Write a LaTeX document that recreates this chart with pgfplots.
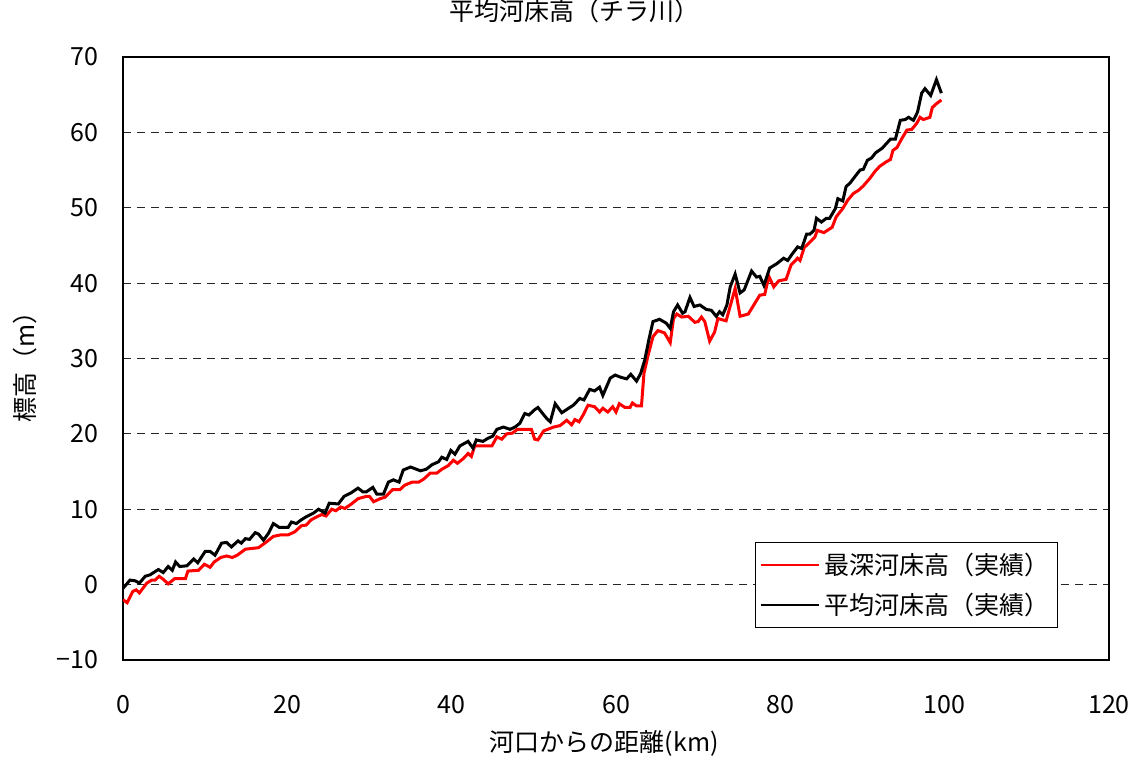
\documentclass[border=0pt]{standalone}
\usepackage{fontspec}
\setmainfont{Noto Sans CJK JP}
\usepackage{pgfplots}
\pgfplotsset{compat=1.18}

% 最深河床高(実績)
\pgfplotstableread{
x y
0 -2.0
0.5 -2.4
1.2 -0.9
1.6 -0.7
2.0 -1.1
2.9 0.2
3.5 0.6
3.9 0.6
4.4 1.1
4.9 0.7
5.5 0.1
6.3 0.8
7.6 0.8
7.9 1.8
9.2 1.9
9.9 2.7
10.6 2.3
11.1 3.0
11.9 3.6
12.6 3.8
13.3 3.6
13.9 3.9
14.9 4.7
15.7 4.8
16.5 4.9
17.5 5.7
18.3 6.4
19.2 6.6
20.1 6.6
20.9 7.0
21.7 7.8
22.3 7.9
22.9 8.6
23.6 9.0
24.2 9.3
24.7 9.1
25.4 10.0
25.9 9.8
26.5 10.3
27.0 10.1
27.8 10.7
28.6 11.4
29.6 11.7
30.0 11.7
30.5 11.0
31.3 11.4
31.9 11.6
32.8 12.6
33.7 12.6
34.3 13.2
35.2 13.6
36.0 13.6
36.6 14.0
37.4 14.8
38.2 14.8
38.8 15.3
39.6 15.8
40.2 16.5
40.7 16.1
41.4 16.7
42.0 17.4
42.4 17.0
42.8 18.4
44.9 18.4
45.5 19.6
46.1 19.3
46.7 20.0
47.4 20.1
48.0 20.6
49.7 20.6
50.1 19.3
50.5 19.2
51.2 20.4
52.4 20.9
53.2 21.1
54.0 21.8
54.6 21.2
55.0 21.9
55.5 21.6
56.0 22.5
56.6 23.8
57.4 23.6
58.0 22.9
58.4 23.4
59.0 22.9
59.6 23.6
60.0 22.9
60.4 24.0
61.1 23.5
61.7 23.5
62.0 24.1
62.5 23.7
63.1 23.7
63.4 28.0
63.9 30.4
64.5 32.9
65.1 33.7
65.9 33.4
66.6 32.1
67.0 35.3
67.4 35.9
68.0 35.5
68.8 35.6
69.6 34.8
70.0 34.9
70.4 35.5
70.8 34.9
71.4 32.3
72.0 33.5
72.4 35.3
73.4 35.0
74.5 39.3
75.1 35.6
76.1 35.9
77.5 38.4
78.1 38.5
78.6 40.9
79.2 39.5
79.8 40.3
80.7 40.5
81.3 42.4
82.1 43.3
82.4 43.0
82.9 44.7
84.2 46.1
84.5 47.0
85.3 46.7
86.3 47.4
86.8 48.8
87.6 49.9
88.2 51.0
88.9 51.9
89.5 52.3
90.1 52.9
90.9 53.9
91.5 54.8
92.1 55.5
92.9 56.1
93.4 56.4
93.7 57.6
94.2 58.0
94.8 59.2
95.4 60.3
96.0 60.4
96.6 61.2
97.0 62.0
97.4 61.7
98.2 62.0
98.5 63.3
99.0 63.8
99.6 64.3
}\deepest

% 平均河床高(実績)
\pgfplotstableread{
x y
0 -0.5
0.85 0.6
1.5 0.5
2.0 0.2
2.7 1.1
3.3 1.3
4.3 2.0
4.9 1.6
5.5 2.4
6.0 1.9
6.4 3.0
6.9 2.4
7.8 2.5
8.6 3.4
9.1 2.9
10.0 4.4
10.6 4.4
11.2 3.9
12.0 5.5
12.6 5.6
13.2 5.0
14.0 5.8
14.4 5.5
14.9 6.1
15.4 6.0
16.1 6.9
16.5 6.7
17.1 5.9
17.7 6.8
18.3 8.1
19.0 7.6
20.1 7.6
20.5 8.3
21.1 8.1
21.7 8.6
22.3 9.0
23.2 9.5
23.8 10.0
24.6 9.5
25.1 10.8
26.2 10.7
26.9 11.7
27.8 12.2
28.6 12.8
29.2 12.3
29.6 12.3
30.4 12.9
30.9 12.0
31.7 12.0
32.3 13.6
32.9 13.9
33.6 13.6
34.1 15.2
35.0 15.6
36.2 15.1
36.9 15.3
37.6 15.9
38.4 16.3
38.8 16.9
39.4 16.6
39.9 17.8
40.4 17.3
41.0 18.4
42.0 19.0
42.6 18.1
43.0 19.2
43.8 19.0
44.4 19.4
45.0 19.7
45.5 20.6
46.3 20.9
47.1 20.6
47.7 20.9
48.3 21.4
48.9 22.7
49.4 22.5
50.1 23.2
50.5 23.5
51.0 22.8
51.6 22.0
52.0 21.6
52.6 24.0
53.4 22.8
54.1 23.3
54.8 23.8
55.6 24.7
56.1 24.5
56.8 25.9
57.4 25.7
58.0 26.2
58.4 25.1
59.3 27.4
59.9 27.8
60.6 27.5
61.3 27.3
61.8 27.9
62.5 27.0
63.0 28.0
63.5 29.8
64.0 32.5
64.5 34.9
65.3 35.2
66.1 34.7
66.6 34.0
67.0 36.2
67.5 37.1
68.1 36.0
68.4 36.2
69.0 38.1
69.5 36.9
70.2 37.1
71.0 36.5
71.6 36.4
72.2 35.6
72.6 36.2
73.0 35.8
73.5 37.1
73.9 39.5
74.5 41.2
75.1 38.7
75.6 39.1
76.5 41.6
77.1 40.8
77.5 40.9
78.0 39.7
78.7 42.0
79.6 42.6
80.4 43.3
80.9 43.0
81.4 43.8
82.1 44.8
82.6 44.6
83.2 46.5
83.6 46.5
84.1 47.0
84.4 48.6
85.0 48.1
85.6 48.6
86.0 48.6
86.7 49.9
87.0 51.2
87.6 50.9
88.0 52.8
88.5 53.3
89.2 54.3
89.7 55.0
90.1 55.1
90.6 56.3
91.1 56.6
91.6 57.3
92.4 57.9
92.9 58.5
93.4 59.1
94.0 59.1
94.6 61.6
95.2 61.7
95.6 62.0
96.2 61.6
96.7 62.7
97.2 65.2
97.6 65.8
98.3 64.9
99.0 67.0
99.6 65.2
}\average

\begin{document}
\begin{tikzpicture}
\begin{axis}[
    scale only axis,
    width=493pt,
    height=301.5pt,
    xmin=0, xmax=120,
    ymin=-10, ymax=70,
    xtick={0,20,...,120},
    ytick={-10,0,...,70},
    yticklabels={−10,0,10,20,30,40,50,60,70},
    major tick length=0pt,
    ymajorgrids,
    grid style={black!85, line width=0.5pt, dash pattern=on 4pt off 3pt},
    axis line style={line width=0.8pt},
    /pgf/number format/assume math mode=true,
    tick label style={font=\fontsize{12.5}{14}\selectfont},
    yticklabel style={anchor=east, xshift=-9pt},
    xticklabel style={anchor=center, yshift=-22.5pt},
    title={平均河床高（チラ川）},
    title style={at={([yshift=16.75pt]axis description cs:0.458,1)}, anchor=center, font=\fontsize{12.5}{14}\selectfont},
    xlabel={河口からの距離(km)},
    xlabel style={at={([yshift=-41.5pt]axis description cs:0.488,0)}, anchor=center, font=\fontsize{12.5}{14}\selectfont},
    ylabel={標高（m）},
    ylabel style={at={([xshift=-49pt]axis description cs:0,0.496)}, anchor=center, font=\fontsize{12.5}{14}\selectfont},
    legend style={at={(0.948,0.053)}, anchor=south east, draw=black, line width=0.6pt,
        font=\fontsize{12.5}{14}\selectfont, row sep=4pt, inner xsep=2pt, inner ysep=3pt},
    legend cell align=left,
    legend image code/.code={\draw[#1, line width=1.2pt] (0pt,0pt) -- (29pt,0pt);},
]
\addplot[red, line width=1.5pt] table[x=x, y=y] {\deepest};
\addlegendentry{最深河床高（実績）}
\addplot[black, line width=1.5pt] table[x=x, y=y] {\average};
\addlegendentry{平均河床高（実績）}
\end{axis}
\pgfresetboundingbox
\path[use as bounding box] ([xshift=-61.5pt,yshift=-50pt]current axis.south west) rectangle ([xshift=15pt,yshift=28.5pt]current axis.north east);
\end{tikzpicture}
\end{document}
